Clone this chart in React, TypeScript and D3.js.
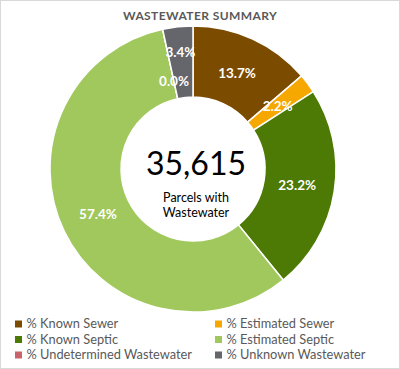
import React, { useEffect, useRef } from "react";
import * as d3 from "d3";

// chart data
const categories = [
  "% Known Sewer",
  "% Estimated Sewer",
  "% Known Septic",
  "% Estimated Septic",
  "% Undetermined Wastewater",
  "% Unknown Wastewater",
];
const shares = [13.7, 2.2, 23.2, 57.4, 0.0, 3.4];
const palette = ["#7B4C00", "#F6A800", "#4C7A05", "#A0C85C", "#C9646C", "#65666B"];
const totalParcels = 35615;
const centerCaption = ["Parcels with", "Wastewater"];
const title = "WASTEWATER SUMMARY";

const width = 400;
const height = 369;

function App() {
  const ref = useRef<SVGSVGElement | null>(null);

  useEffect(() => {
    drawChart();
  }, []);

  const drawChart = () => {
    const svg = d3.select(ref.current);
    svg.selectAll("*").remove();

    const font = "Lato, 'Open Sans', sans-serif";
    const cx = 193;
    const cy = 169;
    const outerR = 143;
    const innerR = 72;

    // background + frame
    svg.append("rect")
      .attr("x", 0.5).attr("y", 0.5)
      .attr("width", width - 1).attr("height", height - 1)
      .attr("fill", "#fff")
      .attr("stroke", "#D9D9D9");

    // title
    svg.append("text")
      .attr("x", 200)
      .attr("y", 19.5)
      .attr("text-anchor", "middle")
      .attr("font-family", font)
      .attr("font-weight", 700)
      .attr("font-size", 12)
      .attr("letter-spacing", 0.4)
      .attr("fill", "#595959")
      .text(title);

    const color = d3.scaleOrdinal<string, string>().domain(categories).range(palette);

    const pie = d3.pie<number>().sort(null).value(d => d);
    const arcs = pie(shares);
    const arc = d3.arc<d3.PieArcDatum<number>>().innerRadius(innerR).outerRadius(outerR);

    const g = svg.append("g").attr("transform", `translate(${cx},${cy})`);

    g.selectAll("path.slice")
      .data(arcs)
      .join("path")
      .attr("class", "slice")
      .attr("d", arc)
      .attr("fill", (_, i) => color(categories[i]))
      .attr("stroke", "#fff")
      .attr("stroke-width", 1.5);

    // labels at mid ring; crowded neighbours are pushed in / out
    const midR = (innerR + outerR) / 2 - 2;
    const labelR = arcs.map(() => midR);
    for (let i = 1; i < arcs.length; i++) {
      const a0 = (arcs[i - 1].startAngle + arcs[i - 1].endAngle) / 2;
      const a1 = (arcs[i].startAngle + arcs[i].endAngle) / 2;
      if ((a1 - a0) * midR < 28) {
        labelR[i - 1] = midR - 16;
        labelR[i] = midR + 12;
      }
    }

    g.selectAll("text.lbl")
      .data(arcs)
      .join("text")
      .attr("class", "lbl")
      .attr("x", (d, i) => Math.sin((d.startAngle + d.endAngle) / 2) * labelR[i])
      .attr("y", (d, i) => -Math.cos((d.startAngle + d.endAngle) / 2) * labelR[i])
      .attr("dy", "0.35em")
      .attr("text-anchor", "middle")
      .attr("font-family", font)
      .attr("font-weight", 700)
      .attr("font-size", 13.5)
      .attr("fill", "#fff")
      .text(d => d.data.toFixed(1) + "%");

    // centre text
    g.append("text")
      .attr("x", 3)
      .attr("y", 6)
      .attr("text-anchor", "middle")
      .attr("font-family", font)
      .attr("font-size", 32)
      .attr("fill", "#000")
      .text(d3.format(",")(totalParcels));

    g.selectAll("text.cap")
      .data(centerCaption)
      .join("text")
      .attr("class", "cap")
      .attr("x", 3)
      .attr("y", (_, i) => 33 + i * 15)
      .attr("text-anchor", "middle")
      .attr("font-family", font)
      .attr("font-size", 12.5)
      .attr("fill", "#000")
      .text(d => d);

    // legend, two columns
    const colX = d3.scaleOrdinal<number, number>().domain([0, 1]).range([15, 215]);
    const rowY = d3.scaleLinear().domain([0, 2]).range([324, 355]);

    const item = svg.selectAll("g.leg")
      .data(categories)
      .join("g")
      .attr("class", "leg")
      .attr("transform", (_, i) => `translate(${colX(i % 2)},${rowY(Math.floor(i / 2))})`);

    item.append("rect")
      .attr("x", 0).attr("y", -3.5)
      .attr("width", 7).attr("height", 7)
      .attr("fill", d => color(d));

    item.append("text")
      .attr("x", 11.5)
      .attr("dy", "0.35em")
      .attr("font-family", font)
      .attr("font-size", 12.8)
      .attr("fill", "#595959")
      .text(d => d);
  };

  return (
    <svg
      ref={ref}
      width={width}
      height={height}
      style={{ position: "absolute", left: 0, top: 0, display: "block" }}
    />
  );
}

export default App;
